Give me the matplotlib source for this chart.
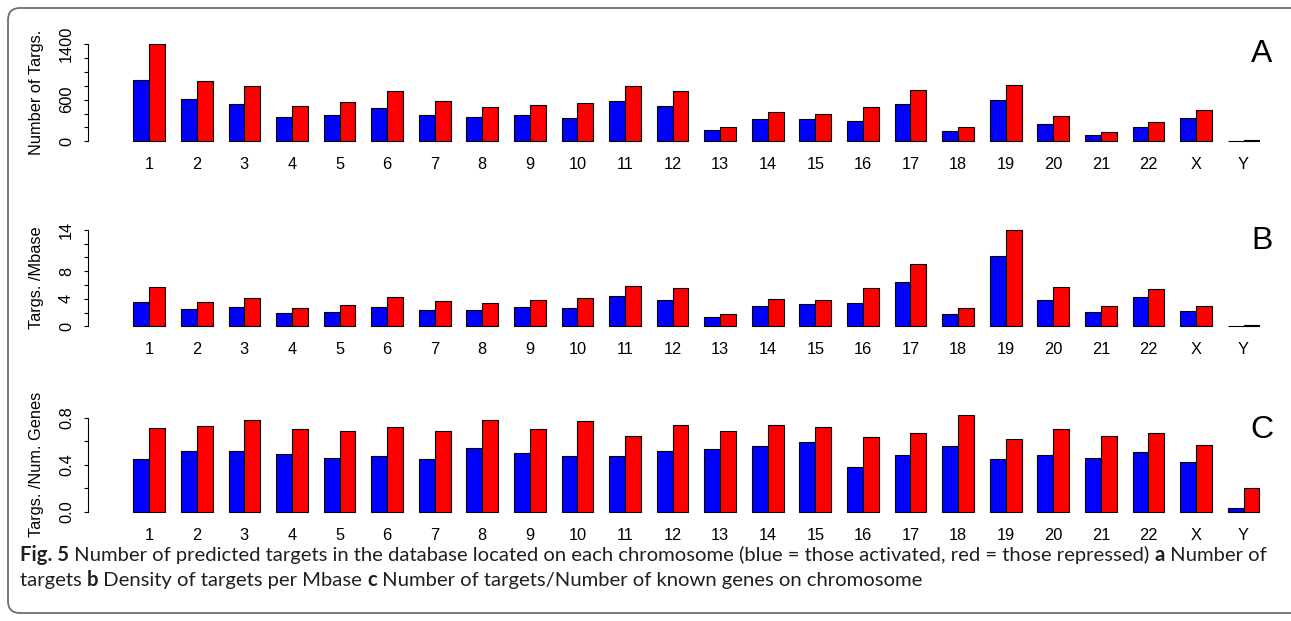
import matplotlib.pyplot as plt
from matplotlib.patches import FancyBboxPatch
from matplotlib.transforms import IdentityTransform

chromosomes = [str(i) for i in range(1, 23)] + ['X', 'Y']

# panel A: number of targets
count_activated = [880, 611, 534, 351, 380, 476, 380, 346, 375, 336, 586, 505,
                   159, 322, 327, 298, 534, 144, 596, 245, 96, 212, 337, 5]
count_repressed = [1400, 866, 798, 510, 572, 726, 586, 495, 524, 548, 794, 731,
                   207, 423, 390, 491, 741, 212, 813, 361, 135, 274, 457, 12]

# panel B: targets per Mbase
density_activated = [3.53, 2.56, 2.75, 1.88, 2.13, 2.80, 2.42, 2.42, 2.75, 2.60, 4.35, 3.82,
                     1.40, 3.00, 3.19, 3.33, 6.47, 1.79, 10.2, 3.86, 2.08, 4.20, 2.17, 0.05]
density_repressed = [5.65, 3.57, 4.06, 2.70, 3.14, 4.25, 3.72, 3.43, 3.82, 4.15, 5.90, 5.50,
                     1.84, 4.00, 3.86, 5.50, 8.98, 2.66, 14.0, 5.65, 2.90, 5.46, 2.90, 0.20]

# panel C: targets / number of genes
ratio_activated = [0.453, 0.521, 0.521, 0.493, 0.459, 0.476, 0.447, 0.544, 0.504, 0.476, 0.476, 0.516,
                   0.538, 0.558, 0.593, 0.382, 0.484, 0.564, 0.450, 0.481, 0.462, 0.510, 0.422, 0.028]
ratio_repressed = [0.718, 0.732, 0.780, 0.709, 0.692, 0.726, 0.689, 0.786, 0.704, 0.778, 0.644, 0.744,
                   0.687, 0.738, 0.721, 0.635, 0.675, 0.826, 0.618, 0.704, 0.647, 0.670, 0.570, 0.202]

W, H = 1291, 621
fig = plt.figure(figsize=(W / 100, H / 100), dpi=100)
fig.patch.set_facecolor('white')

FONT = 'Liberation Sans'
CAP_FONT = 'Lato'
FS = 11.8

# pixel layout (from top of image)
AX_LEFT, AX_RIGHT = 88.3, 1291.0
X_LO = -1.84
X_HI = X_LO + (AX_RIGHT - AX_LEFT) / 15.86

panels = [
    dict(blue=count_activated, red=count_repressed, zero=141.3, top=1400, top_px=44.3,
         ticks=[0, 200, 400, 600, 800, 1000, 1200, 1400],
         labels=['0', '', '', '600', '', '', '', '1400'],
         ylabel='Number of Targs.', letter='A', letter_y=61.5),
    dict(blue=density_activated, red=density_repressed, zero=326.3, top=14, top_px=229.7,
         ticks=[0, 2, 4, 6, 8, 10, 12, 14],
         labels=['0', '', '4', '', '8', '', '', '14'],
         ylabel='Targs. /Mbase', letter='B', letter_y=249.0),
    dict(blue=ratio_activated, red=ratio_repressed, zero=511.7, top=0.8, top_px=418.0,
         ticks=[0, 0.2, 0.4, 0.6, 0.8],
         labels=['0.0', '', '0.4', '', '0.8'],
         ylabel='Targs. /Num. Genes', letter='C', letter_y=438.5),
]

idx = list(range(len(chromosomes)))
for p in panels:
    scale = (p['zero'] - p['top_px']) / p['top']
    lo, hi = -0.04 * p['top'], 1.04 * p['top']
    top_px = p['zero'] - hi * scale
    bot_px = p['zero'] - lo * scale
    ax = fig.add_axes([AX_LEFT / W, 1 - bot_px / H, (AX_RIGHT - AX_LEFT) / W, (bot_px - top_px) / H])
    ax.set_xlim(X_LO, X_HI)
    ax.set_ylim(lo, hi)
    ax.patch.set_visible(False)

    xb = [3 * i + 1.5 for i in idx]
    xr = [3 * i + 2.5 for i in idx]
    ax.bar(xb, p['blue'], width=1.0, color='#0000ff', edgecolor='black', linewidth=0.8)
    ax.bar(xr, p['red'], width=1.0, color='#ff0000', edgecolor='black', linewidth=0.8)

    for s in ['top', 'right', 'bottom']:
        ax.spines[s].set_visible(False)
    ax.spines['left'].set_bounds(0, p['top'])
    ax.spines['left'].set_linewidth(0.8)
    ax.set_xticks([])
    ax.set_yticks(p['ticks'])
    ax.set_yticklabels(p['labels'], family=FONT, fontsize=FS, rotation=90, va='center', ha='center')
    ax.tick_params(axis='y', length=3, width=0.8, pad=12.7)

    for i, name in enumerate(chromosomes):
        ax.annotate(name, xy=(3 * i + 2, 0), xytext=(0, -28), textcoords='offset pixels',
                    ha='center', va='baseline', family=FONT, fontsize=FS)

    ax.text((37 - AX_LEFT) / (AX_RIGHT - AX_LEFT), 0.5, p['ylabel'], transform=ax.transAxes,
            rotation=90, ha='center', va='center', family=FONT, fontsize=FS)
    fig.text(1261.7 / W, 1 - p['letter_y'] / H, p['letter'], ha='center', va='baseline',
             family=FONT, fontsize=23)

# rounded frame around the figure
frame = FancyBboxPatch((8, 8), 1300, 605, boxstyle='round,pad=0,rounding_size=12',
                       transform=IdentityTransform(), facecolor='none',
                       edgecolor='#6e6e6e', linewidth=1.3)
fig.patches.append(frame)

# caption with bold parts
renderer = fig.canvas.get_renderer()


def text_w(s, weight, size):
    t = fig.text(0, 0, s, family=CAP_FONT, fontweight=weight, fontsize=size)
    w = t.get_window_extent(renderer).width
    t.remove()
    return w


def advance(s, weight, size):
    return text_w(s + 'l', weight, size) - text_w('l', weight, size)


line1 = [('Fig. 5', 'bold'),
         (' Number of predicted targets in the database located on each chromosome '
          '(blue = those activated, red = those repressed) ', 'normal'),
         ('a', 'bold'), (' Number of', 'normal')]
line2 = [('targets ', 'normal'), ('b', 'bold'), (' Density of targets per Mbase ', 'normal'),
         ('c', 'bold'), (' Number of targets/Number of known genes on chromosome', 'normal')]

base = 12.0
w1 = sum(advance(s, wt, base) for s, wt in line1)
cap_size = base * (1262 - 20) / w1

for line, y in [(line1, 561.0), (line2, 586.0)]:
    x = 20.0
    for s, wt in line:
        fig.text(x / W, 1 - y / H, s, family=CAP_FONT, fontweight=wt, fontsize=cap_size,
                 va='baseline', ha='left', color='#231f20')
        x += advance(s, wt, cap_size)

fig.savefig('out.png', dpi=100)
